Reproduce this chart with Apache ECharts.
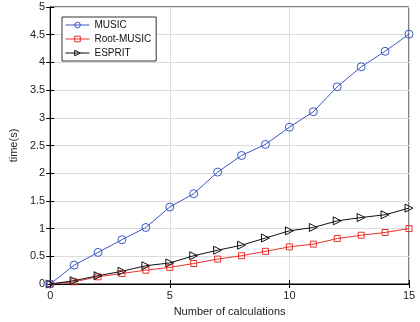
<!DOCTYPE html>
<html>
<head>
<meta charset="utf-8">
<script src="https://cdn.jsdelivr.net/npm/echarts@6/dist/echarts.min.js"></script>
<style>
  html, body { margin: 0; padding: 0; background: #fff; }
  #chart { width: 420px; height: 322px; }
</style>
</head>
<body>
<div id="chart"></div>
<script>
// calculation counts on the x axis
const calcCounts = [0, 1, 2, 3, 4, 5, 6, 7, 8, 9, 10, 11, 12, 13, 14, 15];
// running time (s) per method
const musicTime = [0, 0.34, 0.57, 0.80, 1.02, 1.39, 1.63, 2.02, 2.32, 2.52, 2.83, 3.11, 3.56, 3.92, 4.20, 4.51];
const rootMusicTime = [0, 0.04, 0.13, 0.19, 0.25, 0.30, 0.37, 0.45, 0.51, 0.59, 0.67, 0.72, 0.82, 0.88, 0.93, 1.00];
const espritTime = [0, 0.06, 0.15, 0.23, 0.33, 0.38, 0.51, 0.61, 0.70, 0.83, 0.96, 1.02, 1.14, 1.20, 1.25, 1.37];

const font = 'Liberation Sans, Arial, sans-serif';

function pairs(ys) {
    return calcCounts.map((x, i) => [x, ys[i]]);
}

const myChart = echarts.init(document.getElementById('chart'));

const option = {
    animation: false,
    grid: {
        left: 45,
        right: 11,
        top: 7,
        bottom: 36,
        show: true,
        borderColor: '#000',
        borderWidth: 1
    },
    legend: {
        left: 62,
        top: 17,
        orient: 'vertical',
        itemWidth: 24,
        itemHeight: 7,
        itemGap: 4,
        padding: [3, 5, 3, 3],
        borderColor: '#333',
        borderWidth: 1,
        backgroundColor: '#fff',
        lineStyle: { width: 1 },
        itemStyle: { color: 'rgba(255,255,255,0)', borderWidth: 1 },
        textStyle: { fontFamily: font, fontSize: 10, color: '#111' },
        data: ['MUSIC', 'Root-MUSIC', 'ESPRIT']
    },
    xAxis: [{
        type: 'value',
        min: 0,
        max: 15,
        interval: 5,
        name: 'Number of calculations',
        nameLocation: 'middle',
        nameGap: 22,
        nameTextStyle: { fontFamily: font, fontSize: 11, color: '#222' },
        axisLine: { lineStyle: { color: '#000' } },
        axisTick: { inside: true, length: 4, lineStyle: { color: '#000' } },
        axisLabel: { fontFamily: font, fontSize: 11, color: '#222', margin: 6 },
        splitLine: { show: true, lineStyle: { color: '#dcdcdc', width: 1 } }
    }, {
        type: 'value',
        position: 'top',
        min: 0,
        max: 15,
        interval: 5,
        axisLine: { lineStyle: { color: '#000' } },
        axisTick: { inside: true, length: 4, lineStyle: { color: '#000' } },
        axisLabel: { show: false },
        splitLine: { show: false }
    }],
    yAxis: [{
        type: 'value',
        min: 0,
        max: 5,
        interval: 0.5,
        name: 'time(s)',
        nameLocation: 'middle',
        nameGap: 29,
        nameTextStyle: { fontFamily: font, fontSize: 11, color: '#222' },
        axisLine: { show: true, lineStyle: { color: '#000' } },
        axisTick: { show: true, inside: true, length: 4, lineStyle: { color: '#000' } },
        axisLabel: { fontFamily: font, fontSize: 11, color: '#222', margin: 5 },
        splitLine: { show: true, lineStyle: { color: '#dcdcdc', width: 1 } }
    }, {
        type: 'value',
        position: 'right',
        min: 0,
        max: 5,
        interval: 0.5,
        axisLine: { show: true, lineStyle: { color: '#000' } },
        axisTick: { show: true, inside: true, length: 4, lineStyle: { color: '#000' } },
        axisLabel: { show: false },
        splitLine: { show: false }
    }],
    series: [{
        name: 'MUSIC',
        type: 'line',
        data: pairs(musicTime),
        symbol: 'circle',
        symbolSize: 8,
        lineStyle: { width: 1, color: '#3a56c4' },
        itemStyle: { color: 'rgba(255,255,255,0)', borderColor: '#3a56c4', borderWidth: 1 },
        z: 3
    }, {
        name: 'Root-MUSIC',
        type: 'line',
        data: pairs(rootMusicTime),
        symbol: 'rect',
        symbolSize: 6,
        lineStyle: { width: 1, color: '#e8312b' },
        itemStyle: { color: 'rgba(255,255,255,0)', borderColor: '#e8312b', borderWidth: 1 },
        z: 2
    }, {
        name: 'ESPRIT',
        type: 'line',
        data: pairs(espritTime),
        symbol: 'triangle',
        symbolRotate: -90,
        symbolSize: 8,
        lineStyle: { width: 1, color: '#111' },
        itemStyle: { color: 'rgba(255,255,255,0)', borderColor: '#111', borderWidth: 1 },
        z: 2
    }]
};

myChart.setOption(option);
</script>
</body>
</html>
